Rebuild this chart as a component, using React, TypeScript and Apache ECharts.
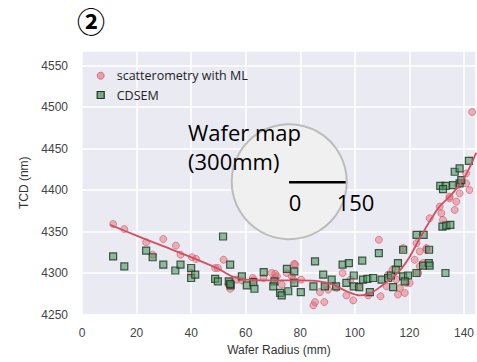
import React, { useEffect, useRef } from "react";
import * as echarts from "echarts";

const xTicks = [0, 20, 40, 60, 80, 100, 120, 140];
const yTicks = [4250, 4300, 4350, 4400, 4450, 4500, 4550];

const scatterometryML: [number, number][] = [
  [11.4, 4359], [15.5, 4353], [23.5, 4337], [25.9, 4322], [29.8, 4341], [34.4, 4333],
  [36.1, 4322], [40.3, 4319], [41.8, 4317], [40.0, 4300], [48.8, 4306], [49.8, 4306],
  [51.9, 4316], [54.3, 4281], [54.5, 4285], [53.7, 4286], [56.7, 4292], [58.6, 4291],
  [62.6, 4294], [62.8, 4291], [66.5, 4294], [69.5, 4300], [70.8, 4299], [70.8, 4294],
  [71.4, 4296], [73.2, 4286], [75, 4300], [76.9, 4296], [77.4, 4292], [77.8, 4311],
  [78.1, 4310], [80.3, 4292], [84.8, 4261], [85.4, 4265], [88.8, 4265], [87.2, 4277],
  [89.6, 4284], [90.2, 4280], [93.3, 4282], [95.5, 4300], [96.9, 4273], [99.4, 4267],
  [98.4, 4292], [101.2, 4284], [104.9, 4273], [108.8, 4340], [109.4, 4272], [111.6, 4284],
  [112.2, 4298], [113.8, 4304], [115.2, 4292], [115.8, 4274], [116.5, 4282], [118.3, 4276],
  [118.9, 4288], [120.1, 4288], [117.7, 4330], [121.9, 4316], [122.6, 4336], [123.2, 4300],
  [123.8, 4308], [123.8, 4326], [125, 4312], [126.2, 4328], [126.2, 4330], [127.4, 4366],
  [131.1, 4380], [131.7, 4372], [132.3, 4364], [134.7, 4390], [136.6, 4376], [137.2, 4386],
  [138.4, 4396], [140.8, 4408], [142, 4400], [140.8, 4420], [137.8, 4406], [134.7, 4392],
  [143, 4494],
];

const cdsem: [number, number][] = [
  [11.4, 4320], [15.5, 4308], [23.5, 4327], [25.9, 4319], [29.8, 4310], [34.2, 4303],
  [36.1, 4310], [40, 4306], [40, 4294], [41.5, 4298], [48.8, 4293], [49.8, 4290],
  [51.7, 4344], [53.8, 4290], [54.3, 4310], [54.5, 4285], [54.3, 4287], [58.6, 4296],
  [60.4, 4285], [62.8, 4289], [63.2, 4281], [66.6, 4301], [70.5, 4290], [70.1, 4284],
  [72.6, 4276], [73.2, 4273], [75.1, 4305], [75.6, 4278], [77.8, 4302], [77.8, 4288],
  [80.2, 4277], [85.4, 4314], [84.8, 4284], [88.4, 4298], [89, 4284], [91.5, 4292],
  [93.1, 4284], [95.5, 4310], [97.8, 4312], [96.9, 4288], [99.6, 4297], [99.6, 4284],
  [101.6, 4283], [102.7, 4315], [103, 4292], [104.6, 4293], [105.5, 4277], [106.7, 4294],
  [108.8, 4324], [109.8, 4292], [112.2, 4294], [113.2, 4297], [114, 4283], [115, 4304],
  [115.8, 4312], [117.7, 4328], [117.7, 4296], [119.5, 4297], [118.3, 4290], [122.6, 4346],
  [125.2, 4346], [122.6, 4300], [125, 4309], [127.2, 4328], [127.1, 4312], [127.4, 4309],
  [133.2, 4300], [132.1, 4356], [133.5, 4357], [135, 4358], [131.3, 4405], [133.3, 4405],
  [136, 4406], [138.4, 4408], [132.3, 4401], [141.8, 4435], [136.6, 4422], [138.4, 4426],
  [139, 4412],
];

const fitLine: [number, number][] = [
  [10.4, 4358], [20, 4345], [30, 4332], [40, 4319], [50, 4305], [55, 4296], [60, 4292],
  [70, 4291], [80, 4291], [87, 4290], [92, 4286], [97, 4278], [102, 4273], [106, 4276],
  [110, 4285], [114, 4295], [117, 4305], [120, 4319], [123.5, 4340], [127, 4360],
  [131, 4380], [135, 4393], [138, 4405], [141, 4420], [144.5, 4445],
];

const legendNames = ["scatterometry with ML", "CDSEM"];
const annotationLines = ["Wafer map", "(300mm)"];
const scaleLabels = ["0", "150"];

const RED_FILL = "rgba(226, 110, 122, 0.6)";
const RED_EDGE = "rgba(214, 82, 98, 0.75)";
const GREEN_FILL = "rgba(80, 150, 96, 0.75)";
const GREEN_EDGE = "#1d3324";

export default function App() {
  const ref = useRef<HTMLDivElement>(null);
  useEffect(() => {
    if (!ref.current) return;
    const chart = echarts.init(ref.current, undefined, { renderer: "svg" });
    const tickFont = { fontFamily: "Liberation Sans", fontSize: 12, color: "#444" };
    const annFont = '22px "Open Sans"';
    chart.setOption({
      animation: false,
      backgroundColor: "#ffffff",
      grid: {
        left: 82,
        right: 0,
        top: 51,
        bottom: 47.5,
        show: true,
        backgroundColor: "#eaeaf2",
        borderWidth: 0,
      },
      xAxis: {
        type: "value",
        min: xTicks[0],
        max: 144.4,
        interval: 20,
        name: "Wafer Radius (mm)",
        nameLocation: "middle",
        nameGap: 29,
        nameTextStyle: { fontFamily: "Liberation Sans", fontSize: 12, color: "#333" },
        axisLine: { show: false },
        axisTick: { show: false },
        axisLabel: { ...tickFont, margin: 12, showMaxLabel: false, formatter: (v: number) => String(v) },
        splitLine: { show: true, lineStyle: { color: "#ffffff", width: 1.5 } },
      },
      yAxis: {
        type: "value",
        min: yTicks[0],
        max: 4567.5,
        interval: 50,
        name: "TCD (nm)",
        nameLocation: "middle",
        nameGap: 52,
        nameTextStyle: { fontFamily: "Liberation Sans", fontSize: 12, color: "#333" },
        axisLine: { show: false },
        axisTick: { show: false },
        axisLabel: { ...tickFont, margin: 14, showMaxLabel: false, formatter: (v: number) => String(v) },
        splitLine: { show: true, lineStyle: { color: "#ffffff", width: 1.5 } },
      },
      series: [
        {
          type: "scatter",
          name: legendNames[0],
          data: scatterometryML,
          symbol: "circle",
          symbolSize: 7,
          itemStyle: { color: RED_FILL, borderColor: RED_EDGE, borderWidth: 1 },
          z: 2,
        },
        {
          type: "scatter",
          name: legendNames[1],
          data: cdsem,
          symbol: "rect",
          symbolSize: 7,
          itemStyle: { color: GREEN_FILL, borderColor: GREEN_EDGE, borderWidth: 1.2 },
          z: 3,
        },
        {
          type: "line",
          name: "fit",
          data: fitLine,
          smooth: 0.3,
          showSymbol: false,
          lineStyle: { color: "#d24f60", width: 1.8 },
          z: 4,
        },
      ],
      graphic: [
        {
          type: "text",
          x: 91,
          y: 21,
          z: 20,
          style: {
            text: "②",
            font: 'bold 28px "Noto Sans CJK JP"',
            fill: "#000",
            align: "center",
            verticalAlign: "middle",
          },
        },
        {
          type: "circle",
          z: 20,
          shape: { cx: 100.7, cy: 75.7, r: 3.5 },
          style: { fill: RED_FILL, stroke: RED_EDGE, lineWidth: 1 },
        },
        {
          type: "rect",
          z: 20,
          shape: { x: 97.2, y: 91.5, width: 7, height: 7 },
          style: { fill: GREEN_FILL, stroke: GREEN_EDGE, lineWidth: 1.2 },
        },
        {
          type: "text",
          z: 20,
          x: 116.7,
          y: 75.7,
          style: {
            text: legendNames[0],
            font: '12.5px "Open Sans"',
            fill: "#222",
            verticalAlign: "middle",
          },
        },
        {
          type: "text",
          z: 20,
          x: 116.7,
          y: 95,
          style: {
            text: legendNames[1],
            font: '12.5px "Open Sans"',
            fill: "#222",
            verticalAlign: "middle",
          },
        },
        {
          type: "circle",
          z: 20,
          shape: { cx: 289.2, cy: 181.7, r: 57.5 },
          style: { fill: "#f0f0f0", stroke: "#bcbcbc", lineWidth: 2 },
        },
        {
          type: "text",
          z: 21,
          x: 188,
          y: 121,
          style: {
            text: annotationLines[0],
            font: annFont,
            fill: "#000",
            verticalAlign: "alphabetic",
          },
        },
        {
          type: "text",
          z: 21,
          x: 188,
          y: 150,
          style: {
            text: annotationLines[1],
            font: annFont,
            fill: "#000",
            verticalAlign: "alphabetic",
          },
        },
        {
          type: "line",
          z: 21,
          shape: { x1: 289, y1: 182.3, x2: 345.7, y2: 182.3 },
          style: { stroke: "#000", lineWidth: 2.5 },
        },
        {
          type: "text",
          z: 21,
          x: 295,
          y: 201.7,
          style: {
            text: scaleLabels[0],
            font: annFont,
            fill: "#000",
            align: "center",
            verticalAlign: "middle",
          },
        },
        {
          type: "text",
          z: 21,
          x: 355.5,
          y: 201.7,
          style: {
            text: scaleLabels[1],
            font: annFont,
            fill: "#000",
            align: "center",
            verticalAlign: "middle",
          },
        },
      ],
    });
    return () => chart.dispose();
  }, []);
  return <div ref={ref} style={{ width: 477, height: 362, position: "absolute", left: 0, top: 0 }} />;
}
